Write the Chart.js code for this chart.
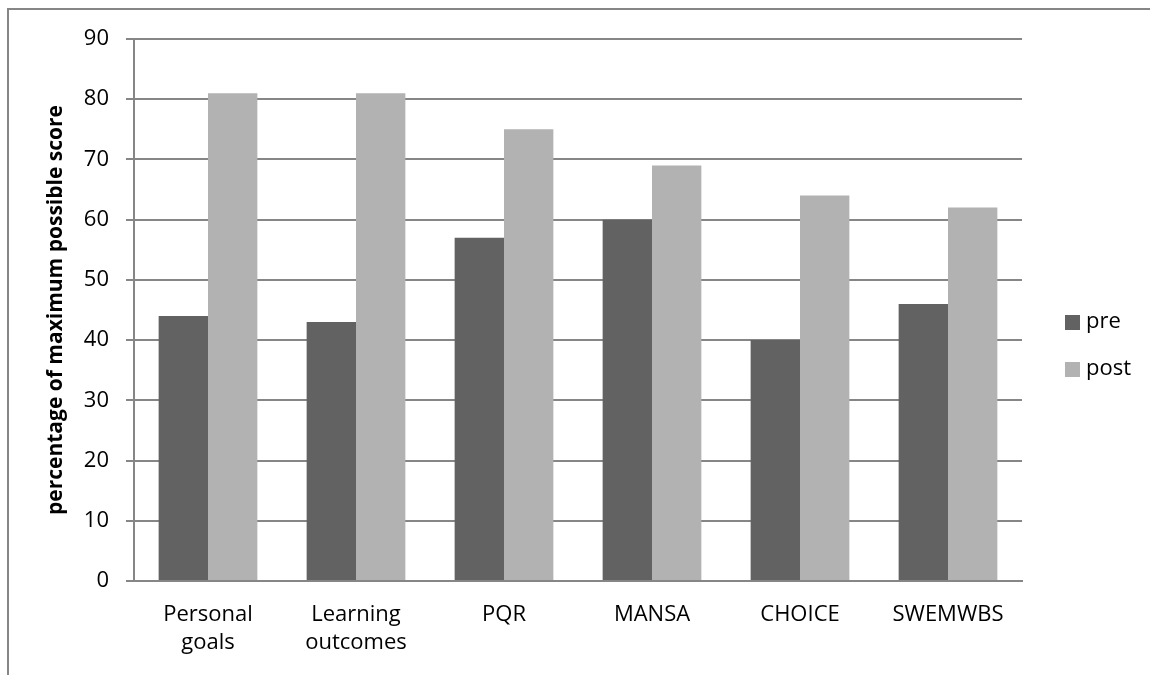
<!DOCTYPE html>
<html>
<head>
<meta charset="utf-8">
<script src="https://cdn.jsdelivr.net/npm/chart.js@4"></script>
<style>
  html, body { margin: 0; padding: 0; background: #fff; }
  #wrap { position: absolute; left: 0; top: 0; width: 1150px; height: 675px; }
</style>
</head>
<body>
<div id="wrap"><canvas id="myChart" width="1150" height="675"></canvas></div>
<script>
var categories = [['Personal', 'goals'], ['Learning', 'outcomes'], 'PQR', 'MANSA', 'CHOICE', 'SWEMWBS'];
var preValues = [44, 43, 57, 60, 40, 46];
var postValues = [81, 81, 75, 69, 64, 62];
var yTicks = { min: 0, max: 90, step: 10 };
var axisTitle = 'percentage of maximum possible score';

var gridColor = '#868686';
var fontFamily = '"Open Sans", "Liberation Sans", sans-serif';

// outer frame (only top and left edges are visible in the picture)
var framePlugin = {
	id: 'frame',
	beforeDraw: function(chart) {
		var ctx = chart.ctx;
		ctx.save();
		ctx.strokeStyle = gridColor;
		ctx.lineWidth = 2;
		ctx.beginPath();
		ctx.moveTo(8, 676);
		ctx.lineTo(8, 9);
		ctx.lineTo(1150, 9);
		ctx.stroke();
		ctx.restore();
	}
};

// legend on the right, drawn from the datasets
var legendPlugin = {
	id: 'sideLegend',
	afterDraw: function(chart) {
		var ctx = chart.ctx;
		ctx.save();
		ctx.font = '22px ' + fontFamily;
		ctx.textBaseline = 'middle';
		chart.data.datasets.forEach(function(ds, i) {
			var cy = 322 + i * 47;
			ctx.fillStyle = ds.backgroundColor;
			ctx.fillRect(1065, cy - 7, 15, 15);
			ctx.fillStyle = '#000';
			ctx.fillText(ds.label, 1086, cy);
		});
		ctx.restore();
	}
};

var ctx = document.getElementById('myChart');
var myChart = new Chart(ctx, {
	type: 'bar',
	data: {
		labels: categories,
		datasets: [{
			label: 'pre',
			data: preValues,
			backgroundColor: '#626262'
		}, {
			label: 'post',
			data: postValues,
			backgroundColor: '#b2b2b2'
		}]
	},
	options: {
		responsive: false,
		maintainAspectRatio: false,
		animation: false,
		datasets: {
			bar: { categoryPercentage: 0.667, barPercentage: 1.0 }
		},
		layout: {
			padding: { top: 39, right: 128, bottom: 0, left: 0 }
		},
		plugins: {
			legend: { display: false },
			tooltip: { enabled: false }
		},
		scales: {
			x: {
				grid: { display: false, drawTicks: false },
				border: { display: true, color: gridColor, width: 2 },
				ticks: {
					color: '#000',
					font: { family: fontFamily, size: 22, lineHeight: 1.27 },
					padding: 20,
					maxRotation: 0,
					autoSkip: false
				},
				afterFit: function(scale) { scale.height = 94; }
			},
			y: {
				min: yTicks.min,
				max: yTicks.max,
				ticks: {
					stepSize: yTicks.step,
					color: '#000',
					font: { family: fontFamily, size: 22 },
					padding: 17
				},
				grid: {
					color: gridColor,
					lineWidth: 2,
					tickLength: 8,
					drawTicks: true
				},
				border: { display: true, color: gridColor, width: 2 },
				title: {
					display: true,
					text: axisTitle,
					color: '#000',
					font: { family: fontFamily, size: 21, weight: 'bold' },
					padding: { top: 43, bottom: 0 }
				},
				afterFit: function(scale) { scale.width = 134; }
			}
		}
	},
	plugins: [framePlugin, legendPlugin]
});
</script>
</body>
</html>
